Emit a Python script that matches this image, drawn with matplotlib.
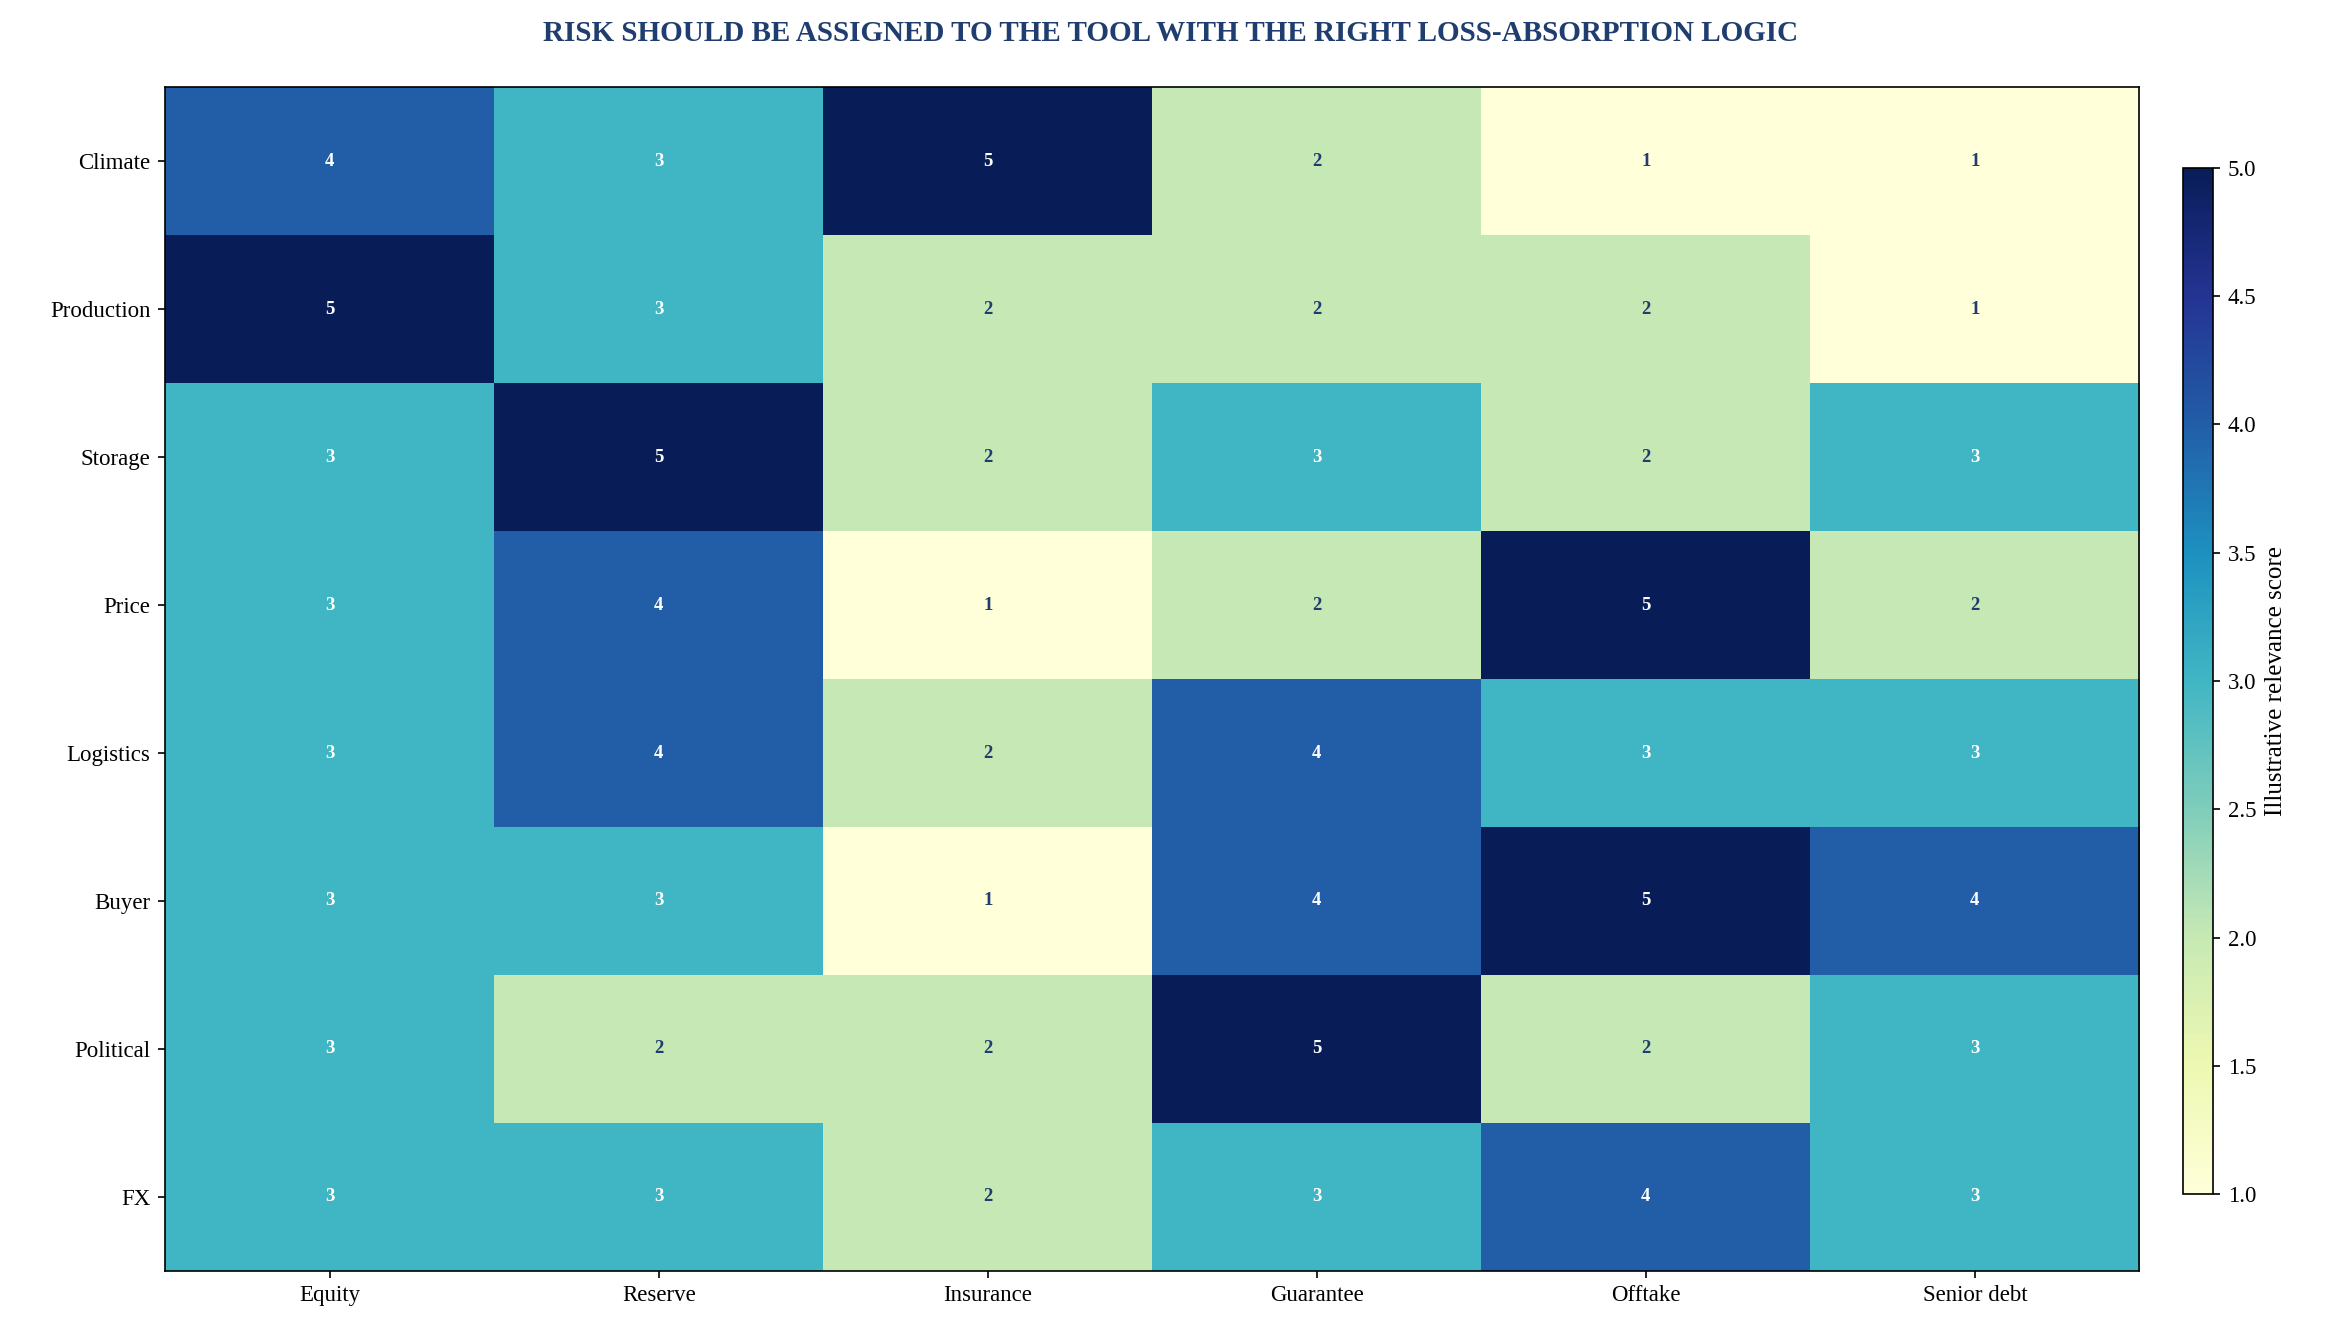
import matplotlib
matplotlib.use("Agg")
import matplotlib.pyplot as plt
import numpy as np

plt.rcParams['font.family'] = ['Liberation Serif', 'DejaVu Serif']

risks = ["Climate", "Production", "Storage", "Price", "Logistics", "Buyer", "Political", "FX"]
tools = ["Equity", "Reserve", "Insurance", "Guarantee", "Offtake", "Senior debt"]
scores = [
    [4, 3, 5, 2, 1, 1],
    [5, 3, 2, 2, 2, 1],
    [3, 5, 2, 3, 2, 3],
    [3, 4, 1, 2, 5, 2],
    [3, 4, 2, 4, 3, 3],
    [3, 3, 1, 4, 5, 4],
    [3, 2, 2, 5, 2, 3],
    [3, 3, 2, 3, 4, 3],
]
data = np.array(scores)

fig = plt.figure(figsize=(2342/150, 1342/150), dpi=150)
ax = fig.add_axes([0.0705, 0.053, 0.843, 0.882])
cax = fig.add_axes([0.932, 0.11, 0.013, 0.765])
im = ax.imshow(data, cmap="YlGnBu", vmin=1, vmax=5, aspect="auto")
ax.set_xticks(range(len(tools)))
ax.set_xticklabels(tools, fontsize=11)
ax.set_yticks(range(len(risks)))
ax.set_yticklabels(risks, fontsize=11)
for i in range(data.shape[0]):
    for j in range(data.shape[1]):
        v = data[i, j]
        ax.text(j, i, str(v), ha="center", va="center", fontsize=9, fontweight="bold",
                color="white" if v >= 3 else "#1f3d6e")
cb = fig.colorbar(im, cax=cax)
cb.set_label("Illustrative relevance score", fontsize=12)
cb.ax.tick_params(labelsize=11)
fig.suptitle("RISK SHOULD BE ASSIGNED TO THE TOOL WITH THE RIGHT LOSS-ABSORPTION LOGIC",
             fontsize=14, fontweight="bold", color="#1f3d6e", y=0.985)
fig.savefig("out.png", dpi=150)
